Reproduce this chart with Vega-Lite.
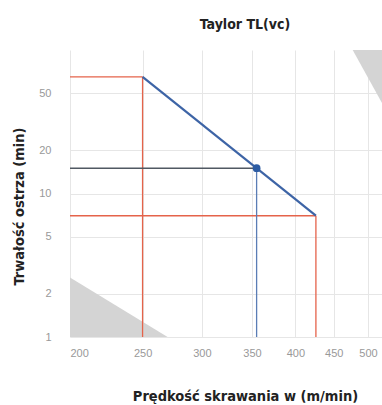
{
  "$schema": "https://vega.github.io/schema/vega-lite/v6.json",
  "autosize": "none",
  "padding": {"left": 70, "top": 50, "right": 0, "bottom": 68},
  "width": 312,
  "height": 287,
  "background": "white",
  "title": {
    "text": "Taylor TL(vc)",
    "anchor": "middle",
    "dx": 19,
    "offset": 7,
    "baseline": "alphabetic",
    "font": "DejaVu Sans Condensed, Liberation Sans",
    "fontSize": 14,
    "fontWeight": "bold",
    "color": "#222"
  },
  "config": {
    "view": {"stroke": null},
    "axis": {
      "labelFont": "Liberation Sans",
      "labelFontSize": 11,
      "labelColor": "#999",
      "titleFont": "DejaVu Sans Condensed, Liberation Sans",
      "titleFontSize": 14.5,
      "titleFontWeight": "bold",
      "titleColor": "#222",
      "gridColor": "#e6e6e6",
      "gridWidth": 1,
      "domain": false,
      "ticks": false
    }
  },
  "datasets": {
    "rules": [
      {"x": 200, "x2": 250, "y": 65, "y2": 65, "kind": "red"},
      {"x": 250, "x2": 250, "y": 1, "y2": 65, "kind": "red"},
      {"x": 200, "x2": 426, "y": 7, "y2": 7, "kind": "red"},
      {"x": 426, "x2": 426, "y": 1, "y2": 7, "kind": "red"},
      {"x": 200, "x2": 355, "y": 15, "y2": 15, "kind": "grey"},
      {"x": 355, "x2": 355, "y": 1, "y2": 15, "kind": "blue"}
    ],
    "taylor": [
      {"x": 250, "y": 65},
      {"x": 426, "y": 7}
    ],
    "point": [
      {"x": 355, "y": 15}
    ],
    "lowzone": [
      {"x": 200, "y": 2.6, "base": 1},
      {"x": 270, "y": 1, "base": 1}
    ],
    "highzone": [
      {"x": 477, "y": 100, "top": 100},
      {"x": 522, "y": 42.8, "top": 100}
    ]
  },
  "encoding": {},
  "layer": [
    {
      "data": {"name": "lowzone"},
      "mark": {"type": "area", "color": "#d4d4d4", "opacity": 1},
      "encoding": {
        "x": {"field": "x", "type": "quantitative",
          "scale": {"type": "log", "domain": [200, 522], "nice": false},
          "axis": {"values": [200, 250, 300, 350, 400, 450, 500], "title": "Prędkość skrawania w (m/min)", "labelPadding": 10, "titleX": 175, "titleY": 63, "titleBaseline": "alphabetic", "format": "d"}},
        "y": {"field": "y", "type": "quantitative",
          "scale": {"type": "log", "domain": [1, 100], "nice": false},
          "axis": {"values": [1, 2, 5, 10, 20, 50], "title": "Trwałość ostrza (min)", "labelPadding": 19, "titleX": -51, "titleY": 156, "titleAngle": -90, "titleBaseline": "middle", "titleAlign": "center", "format": "d"}},
        "y2": {"field": "base"}
      }
    },
    {
      "data": {"name": "highzone"},
      "mark": {"type": "area", "color": "#d4d4d4", "opacity": 1},
      "encoding": {
        "x": {"field": "x", "type": "quantitative"},
        "y": {"field": "y", "type": "quantitative"},
        "y2": {"field": "top"}
      }
    },
    {
      "data": {"name": "rules"},
      "mark": {"type": "rule", "strokeWidth": 1.3},
      "encoding": {
        "x": {"field": "x", "type": "quantitative"},
        "x2": {"field": "x2"},
        "y": {"field": "y", "type": "quantitative"},
        "y2": {"field": "y2"},
        "color": {"field": "kind", "type": "nominal",
          "scale": {"domain": ["red", "grey", "blue"], "range": ["#e5634a", "#505862", "#5a7db5"]},
          "legend": null}
      }
    },
    {
      "data": {"name": "taylor"},
      "mark": {"type": "line", "color": "#3d64a6", "strokeWidth": 2.2},
      "encoding": {
        "x": {"field": "x", "type": "quantitative"},
        "y": {"field": "y", "type": "quantitative"}
      }
    },
    {
      "data": {"name": "point"},
      "mark": {"type": "point", "filled": true, "color": "#2d5ca3", "size": 60, "opacity": 1},
      "encoding": {
        "x": {"field": "x", "type": "quantitative"},
        "y": {"field": "y", "type": "quantitative"}
      }
    }
  ]
}
